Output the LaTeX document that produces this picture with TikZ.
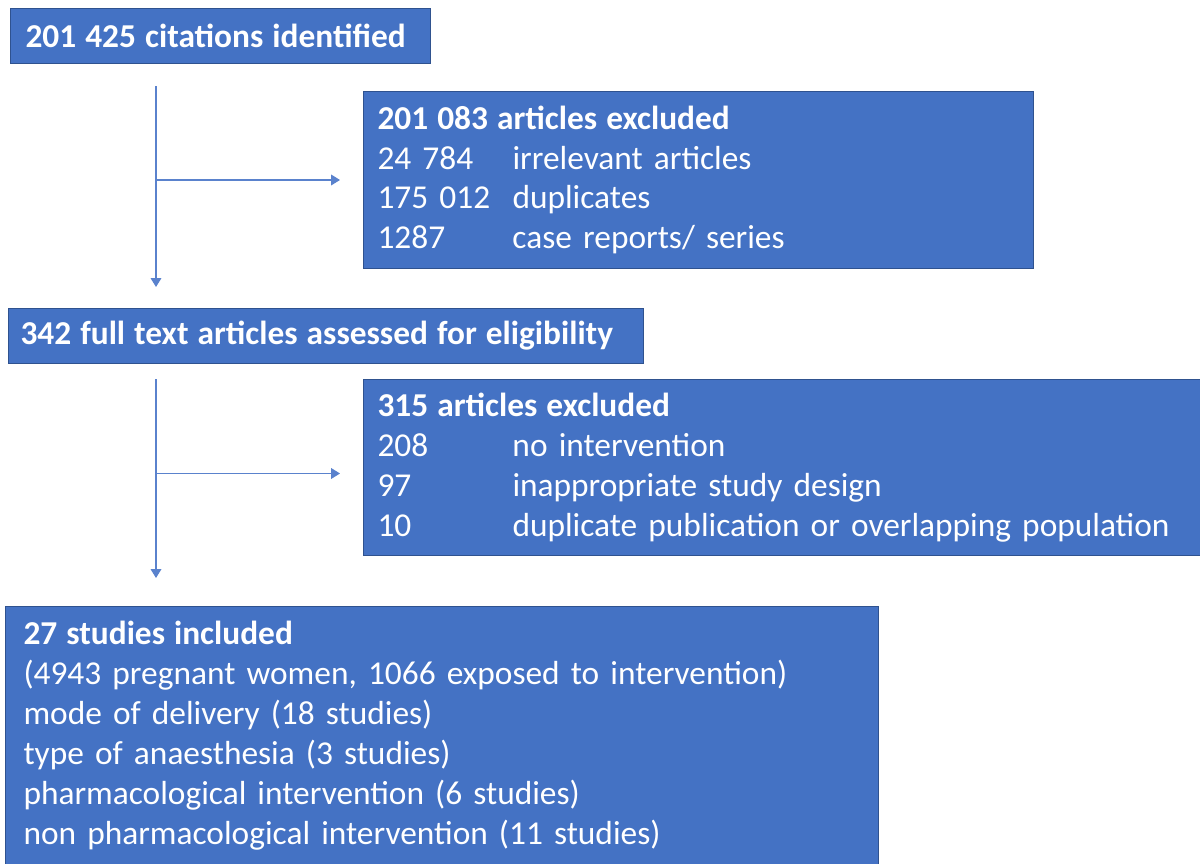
\documentclass[tikz,border=0pt]{standalone}
\usepackage{fontspec}
\setmainfont{Carlito}
\usetikzlibrary{arrows.meta,calc}
\definecolor{officeblue}{RGB}{68, 114, 196}
\definecolor{officeedge}{RGB}{47, 82, 143}
\definecolor{flowline}{RGB}{90, 130, 205}
\newcommand{\exclrow}[2]{\makebox[2.7cm][l]{#1}#2}
\newcommand{\stagehead}[1]{{\bfseries\spaceskip=0.27em\relax #1}}

\begin{document}
\begin{tikzpicture}[x=0.02cm, y=0.02cm,
            stagebox/.style={draw=officeedge, line width=0.6pt, fill=officeblue, text=white,
                 anchor=north west, align=left, inner ysep=0pt,
                 font=\fontsize{19}{22.7}\selectfont},
            flow/.style={draw=flowline, line width=0.7pt, -{Triangle[length=5pt, width=6pt]}}]
            \useasboundingbox (0, 0) rectangle (1200, 864);
            \node[stagebox, inner xsep=0.3cm,  text width=7.8cm,   minimum height=1.1cm]  (cites)    at ( 10, 856)
                 {\stagehead{201 425 citations identified}};
            \node[stagebox, inner xsep=0.28cm, text width=12.84cm, minimum height=3.54cm] (excl1)    at (363, 773)
                 {\stagehead{201 083 articles excluded}\\
                  \exclrow{24 784}{irrelevant articles}\\
                  \exclrow{175 012}{duplicates}\\
                  \exclrow{1287}{case reports/ series}};
            \node[stagebox, inner xsep=0.24cm, text width=12.22cm, minimum height=1.1cm]  (fulltext) at (  8, 556)
                 {\stagehead{342 full text articles assessed for eligibility}};
            \node[stagebox, inner xsep=0.28cm, text width=16.24cm, minimum height=3.52cm] (excl2)    at (363, 485)
                 {\stagehead{315 articles excluded}\\
                  \exclrow{208}{no intervention}\\
                  \exclrow{97}{inappropriate study design}\\
                  \exclrow{10}{duplicate publication or overlapping population}};
            \node[stagebox, inner xsep=0.36cm, text width=16.74cm, minimum height=5.16cm] (incl)     at (  5, 258)
                 {\stagehead{27 studies included}\\
                  (4943 pregnant women, 1066 exposed to intervention)\\
                  mode of delivery (18 studies)\\
                  type of anaesthesia (3 studies)\\
                  pharmacological intervention (6 studies)\\
                  non pharmacological intervention (11 studies)};
            \coordinate (trunk) at (156, 0);
            \draw[flow, shorten <=0.44cm, shorten >=0.42cm] (cites.south -| trunk)    -- (fulltext.north -| trunk);
            \draw[flow, shorten >=0.46cm]                   (trunk |- excl1.west)     -- (excl1.west);
            \draw[flow, shorten <=0.3cm,  shorten >=0.56cm] (fulltext.south -| trunk) -- (incl.north -| trunk);
            \draw[flow, shorten >=0.46cm]                   ($(trunk |- excl2.west) + (0, -6)$) -- ($(excl2.west) + (0, -6)$);
        \end{tikzpicture}
\end{document}
